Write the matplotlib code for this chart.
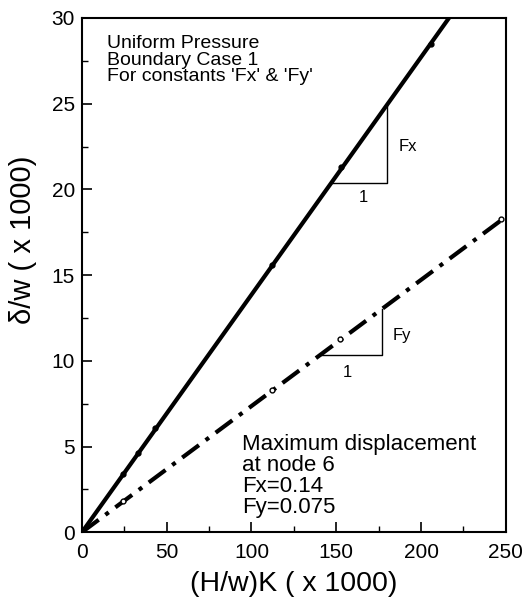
import matplotlib
matplotlib.use("Agg")
import matplotlib.pyplot as plt
import numpy as np

plt.rcParams['font.family'] = ['Liberation Sans', 'DejaVu Sans']

# Data
solid_x = [0, 24, 33, 43, 112, 153, 206]
solid_y = [0, 3.4, 4.6, 6.1, 15.6, 21.3, 28.5]
solid_line_x = [0, 216.5]
solid_line_y = [0, 30]

dash_x = [0, 24, 112, 152, 247]
dash_y = [0, 1.8, 8.3, 11.3, 18.3]
dash_line_x = [0, 250]
dash_line_y = [0, 18.4]

fx_tri_x = [147, 180, 180]
fx_tri_y = [20.4, 20.4, 24.9]
fy_tri_x = [140, 176.7, 176.7]
fy_tri_y = [10.33, 10.33, 13.0]

fig = plt.figure(figsize=(5.22, 5.98), dpi=100)
ax = fig.add_axes([0.157, 0.11, 0.812, 0.86])

ax.plot(solid_line_x, solid_line_y, color='black', lw=3, solid_capstyle='round')
ax.plot(solid_x, solid_y, 'o', color='black', ms=3.5)
ax.plot(dash_line_x, dash_line_y, color='black', lw=3, dashes=(5, 2, 1, 2))
ax.plot(dash_x, dash_y, 'o', mfc='white', mec='black', ms=3.5, mew=1)

ax.plot(fx_tri_x, fx_tri_y, color='black', lw=1)
ax.plot(fy_tri_x, fy_tri_y, color='black', lw=1)
ax.text(186.8, 22.5, 'Fx', fontsize=12, va='center', ha='left')
ax.text(166, 19.55, '1', fontsize=12, va='center', ha='center')
ax.text(183, 11.5, 'Fy', fontsize=12, va='center', ha='left')
ax.text(156.6, 9.34, '1', fontsize=12, va='center', ha='center')

ax.text(14.5, 26.3, "Uniform Pressure\nBoundary Case 1\nFor constants 'Fx' & 'Fy'",
        fontsize=14, va='baseline', ha='left', linespacing=0.98)
ax.text(94.6, 1.11, "Maximum displacement\nat node 6\nFx=0.14\nFy=0.075",
        fontsize=16, va='baseline', ha='left', linespacing=1.0)

ax.set_xlim(0, 250)
ax.set_ylim(0, 30)
ax.set_xticks([0, 50, 100, 150, 200, 250])
ax.set_yticks([0, 5, 10, 15, 20, 25, 30])
ax.set_xticks(np.arange(25, 250, 50), minor=True)
ax.set_yticks(np.arange(2.5, 30, 5), minor=True)
ax.tick_params(which='major', direction='in', length=7, width=1.2, labelsize=15)
ax.tick_params(axis='x', which='major', pad=8)
ax.tick_params(axis='y', which='major', pad=5)
ax.tick_params(which='minor', direction='in', length=4, width=1)
for s in ax.spines.values():
    s.set_linewidth(1.5)

ax.set_xlabel('(H/w)K ( x 1000)', fontsize=20.5, labelpad=6)
ax.set_ylabel('δ/w ( x 1000)', fontsize=21)
ax.yaxis.set_label_coords(-0.106, 0.568)

fig.savefig('out.png', dpi=100)
